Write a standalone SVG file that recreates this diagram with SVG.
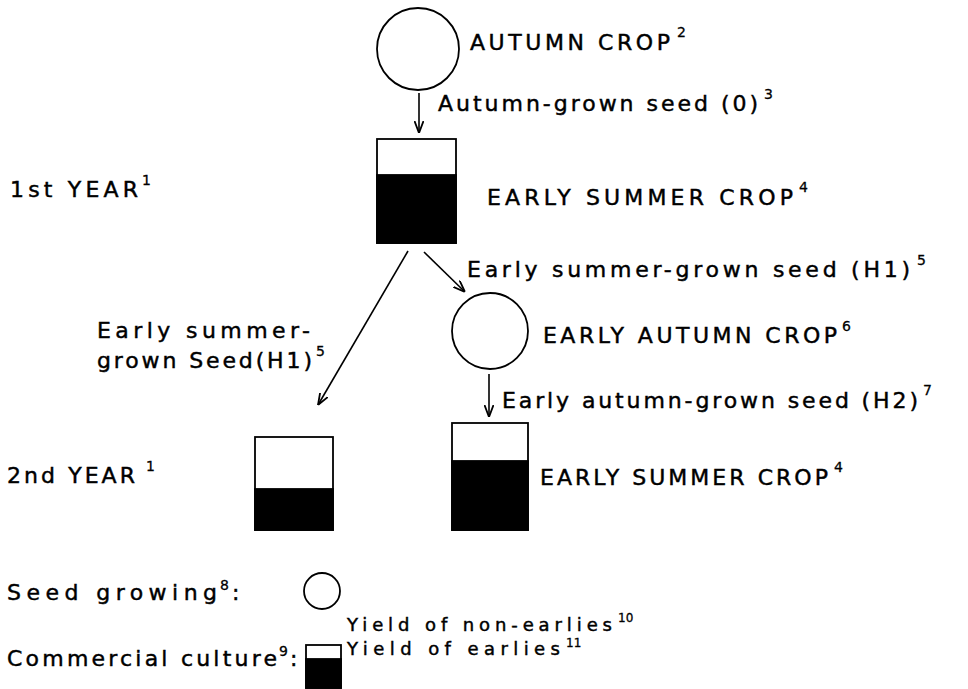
<svg xmlns="http://www.w3.org/2000/svg" width="968" height="689" viewBox="0 0 968 689">
  <style>
    text { font-family: "DejaVu Sans", "Liberation Sans", sans-serif; fill: #000; stroke: #000; stroke-width: 0.45; }
    .lbl { font-size: 22px; }
    .sup { font-size: 14px; stroke-width: 0.3; }
    .leg { font-size: 18px; }
    .sup2 { font-size: 12px; stroke-width: 0.3; }
    .node { fill: #fff; stroke: #000; stroke-width: 1.8; }
    .blk { fill: #000; stroke: #000; stroke-width: 1.8; }
    .conn { stroke: #000; stroke-width: 1.6; fill: none; marker-end: url(#arr); }
  </style>
  <defs>
    <marker id="arr" viewBox="0 0 12 10" refX="12" refY="5" markerWidth="12" markerHeight="10" markerUnits="userSpaceOnUse" orient="auto">
      <path d="M0,0.5 L12,5 L0,9.5" fill="none" stroke="#000" stroke-width="1.8"/>
    </marker>
  </defs>
  <rect width="968" height="689" fill="#fff"/>

  <g id="connectors">
    <line class="conn" x1="419" y1="93" x2="419" y2="133"/>
    <line class="conn" x1="408" y1="251" x2="318" y2="405"/>
    <line class="conn" x1="424" y1="252" x2="465" y2="292"/>
    <line class="conn" x1="489" y1="374" x2="489" y2="417"/>
  </g>

  <g id="autumn-crop">
    <circle class="node" cx="418" cy="49" r="41"/>
    <text class="lbl"><tspan x="470" y="50" textLength="200" lengthAdjust="spacing">AUTUMN CROP</tspan><tspan class="sup" x="677" y="37">2</tspan></text>
  </g>

  <g id="label-autumn-seed">
    <text class="lbl"><tspan x="438" y="111" textLength="320" lengthAdjust="spacing">Autumn-grown seed (0)</tspan><tspan class="sup" x="764" y="99">3</tspan></text>
  </g>

  <g id="year1">
    <text class="lbl"><tspan x="10" y="197" textLength="128" lengthAdjust="spacing">1st YEAR</tspan><tspan class="sup" x="142" y="185">1</tspan></text>
  </g>

  <g id="early-summer-crop-1">
    <rect class="node" x="377" y="139" width="79" height="104"/>
    <rect class="blk" x="377" y="175" width="79" height="68"/>
    <text class="lbl"><tspan x="487" y="205" textLength="306" lengthAdjust="spacing">EARLY SUMMER CROP</tspan><tspan class="sup" x="799" y="192">4</tspan></text>
  </g>

  <g id="label-h1-right">
    <text class="lbl"><tspan x="467" y="277" textLength="443" lengthAdjust="spacing">Early summer-grown seed (H1)</tspan><tspan class="sup" x="917" y="265">5</tspan></text>
  </g>

  <g id="label-h1-left">
    <text class="lbl"><tspan x="97" y="338" textLength="213" lengthAdjust="spacing">Early summer-</tspan><tspan x="97" y="368" textLength="215" lengthAdjust="spacing">grown Seed(H1)</tspan><tspan class="sup" x="316" y="356">5</tspan></text>
  </g>

  <g id="early-autumn-crop">
    <circle class="node" cx="490" cy="331" r="38"/>
    <text class="lbl"><tspan x="543" y="343" textLength="294" lengthAdjust="spacing">EARLY AUTUMN CROP</tspan><tspan class="sup" x="842" y="331">6</tspan></text>
  </g>

  <g id="label-h2">
    <text class="lbl"><tspan x="502" y="408" textLength="416" lengthAdjust="spacing">Early autumn-grown seed (H2)</tspan><tspan class="sup" x="923" y="395">7</tspan></text>
  </g>

  <g id="year2">
    <text class="lbl"><tspan x="7" y="483" textLength="128" lengthAdjust="spacing">2nd YEAR</tspan><tspan class="sup" x="146" y="471">1</tspan></text>
  </g>

  <g id="commercial-h1">
    <rect class="node" x="255" y="437" width="78" height="93"/>
    <rect class="blk" x="255" y="489" width="78" height="41"/>
  </g>

  <g id="early-summer-crop-2">
    <rect class="node" x="452" y="423" width="76" height="107"/>
    <rect class="blk" x="452" y="461" width="76" height="69"/>
    <text class="lbl"><tspan x="540" y="485" textLength="288" lengthAdjust="spacing">EARLY SUMMER CROP</tspan><tspan class="sup" x="834" y="472">4</tspan></text>
  </g>

  <g id="legend-seed">
    <text class="lbl"><tspan x="7" y="600" textLength="210" lengthAdjust="spacing">Seed growing</tspan><tspan class="sup" x="220" y="590">8</tspan><tspan x="232" y="600">:</tspan></text>
    <circle class="node" cx="322" cy="591" r="18"/>
  </g>

  <g id="legend-commercial">
    <text class="lbl"><tspan x="7" y="666" textLength="270" lengthAdjust="spacing">Commercial culture</tspan><tspan class="sup" x="279" y="656">9</tspan><tspan x="290" y="666">:</tspan></text>
    <rect class="node" x="306" y="645" width="35" height="43"/>
    <rect class="blk" x="306" y="659" width="35" height="29"/>
    <text class="leg"><tspan x="347" y="631" textLength="265" lengthAdjust="spacing">Yield of non-earlies</tspan><tspan class="sup2" x="618" y="622">10</tspan></text>
    <text class="leg"><tspan x="347" y="655" textLength="213" lengthAdjust="spacing">Yield of earlies</tspan><tspan class="sup2" x="566" y="647">11</tspan></text>
  </g>
</svg>
